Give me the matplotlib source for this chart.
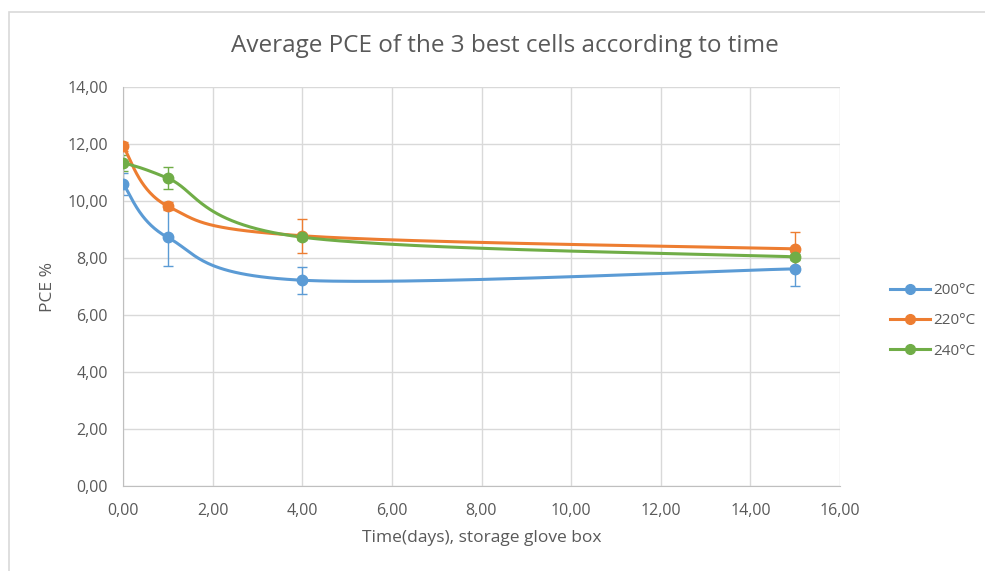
import numpy as np
import matplotlib.pyplot as plt
from matplotlib.patches import Rectangle
from matplotlib.ticker import FuncFormatter

days = [0, 1, 4, 15]
labels = ['200°C', '220°C', '240°C']
pce_200 = [10.60, 8.72, 7.22, 7.62]
pce_220 = [11.92, 9.82, 8.78, 8.32]
pce_240 = [11.35, 10.80, 8.73, 8.04]
err_200 = [0.40, 1.00, 0.48, 0.60]
err_220 = [0.15, 0.15, 0.60, 0.60]
err_240 = [0.28, 0.38, 0.10, 0.10]
colors = ['#5B9BD5', '#ED7D31', '#70AD47']


def smooth(x, y, n=60):
    # Excel-style smoothed line (Catmull-Rom bezier)
    x = np.asarray(x, float)
    y = np.asarray(y, float)
    px, py = [], []
    for i in range(len(x) - 1):
        i0 = max(i - 1, 0)
        i3 = min(i + 2, len(x) - 1)
        c1x = x[i] + (x[i + 1] - x[i0]) / 6
        c1y = y[i] + (y[i + 1] - y[i0]) / 6
        c2x = x[i + 1] - (x[i3] - x[i]) / 6
        c2y = y[i + 1] - (y[i3] - y[i]) / 6
        t = np.linspace(0, 1, n)
        bx = (1-t)**3*x[i] + 3*(1-t)**2*t*c1x + 3*(1-t)*t**2*c2x + t**3*x[i+1]
        by = (1-t)**3*y[i] + 3*(1-t)**2*t*c1y + 3*(1-t)*t**2*c2y + t**3*y[i+1]
        px.extend(bx)
        py.extend(by)
    return px, py


plt.rcParams['font.family'] = ['Open Sans', 'DejaVu Sans']
fig = plt.figure(figsize=(9.85, 5.71), dpi=100)
W, H = 985, 571
ax = fig.add_axes([123 / W, 1 - 486 / H, (840 - 123) / W, (486 - 87) / H])

fig.patches.append(Rectangle((9 / W, -0.05), 1.2, 1 - 12 / H + 0.05,
                             transform=fig.transFigure, fill=False,
                             edgecolor='#D9D9D9', lw=1.2))

series = [pce_200, pce_220, pce_240]
errs = [err_200, err_220, err_240]
for lab, ys, es, c in zip(labels, series, errs, colors):
    sx, sy = smooth(days, ys)
    ax.plot(sx, sy, color=c, lw=2.2, zorder=3)
    ax.errorbar(days, ys, yerr=es, fmt='none', ecolor=c, elinewidth=1,
                capsize=3.8, capthick=1, zorder=2)
    ax.plot(days, ys, 'o', color=c, ms=7.5, zorder=4)
    ax.plot([], [], '-o', color=c, lw=2.2, ms=7, label=lab)

ax.set_xlim(0, 16)
ax.set_ylim(0, 14)
ax.set_xticks(np.arange(0, 17, 2))
ax.set_yticks(np.arange(0, 15, 2))
fmt = FuncFormatter(lambda v, p: f'{v:.2f}'.replace('.', ','))
ax.xaxis.set_major_formatter(fmt)
ax.yaxis.set_major_formatter(fmt)
ax.grid(True, color='#D9D9D9', lw=1)
ax.set_axisbelow(True)
for s in ['top', 'right']:
    ax.spines[s].set_visible(False)
for s in ['left', 'bottom']:
    ax.spines[s].set_color('#BFBFBF')
ax.tick_params(length=0, colors='#595959', labelsize=11.5)
ax.tick_params(axis='y', pad=11)
ax.tick_params(axis='x', pad=12)

ax.set_xlabel('Time(days), storage glove box', color='#595959', fontsize=12.5, labelpad=8)
ax.set_ylabel('PCE %', color='#595959', fontsize=12.5, labelpad=8)
fig.text(505 / W, 1 - 46 / H, 'Average PCE of the 3 best cells according to time',
         ha='center', va='center', fontsize=17.5, color='#595959')

leg = fig.legend(loc='center left', bbox_to_anchor=(890 / W, 1 - 321 / H),
                 frameon=False, fontsize=11, handlelength=2.6,
                 labelspacing=1.0, handletextpad=0.25,
                 borderpad=0, borderaxespad=0)
for t in leg.get_texts():
    t.set_color('#595959')

fig.savefig('out.png', dpi=100)
